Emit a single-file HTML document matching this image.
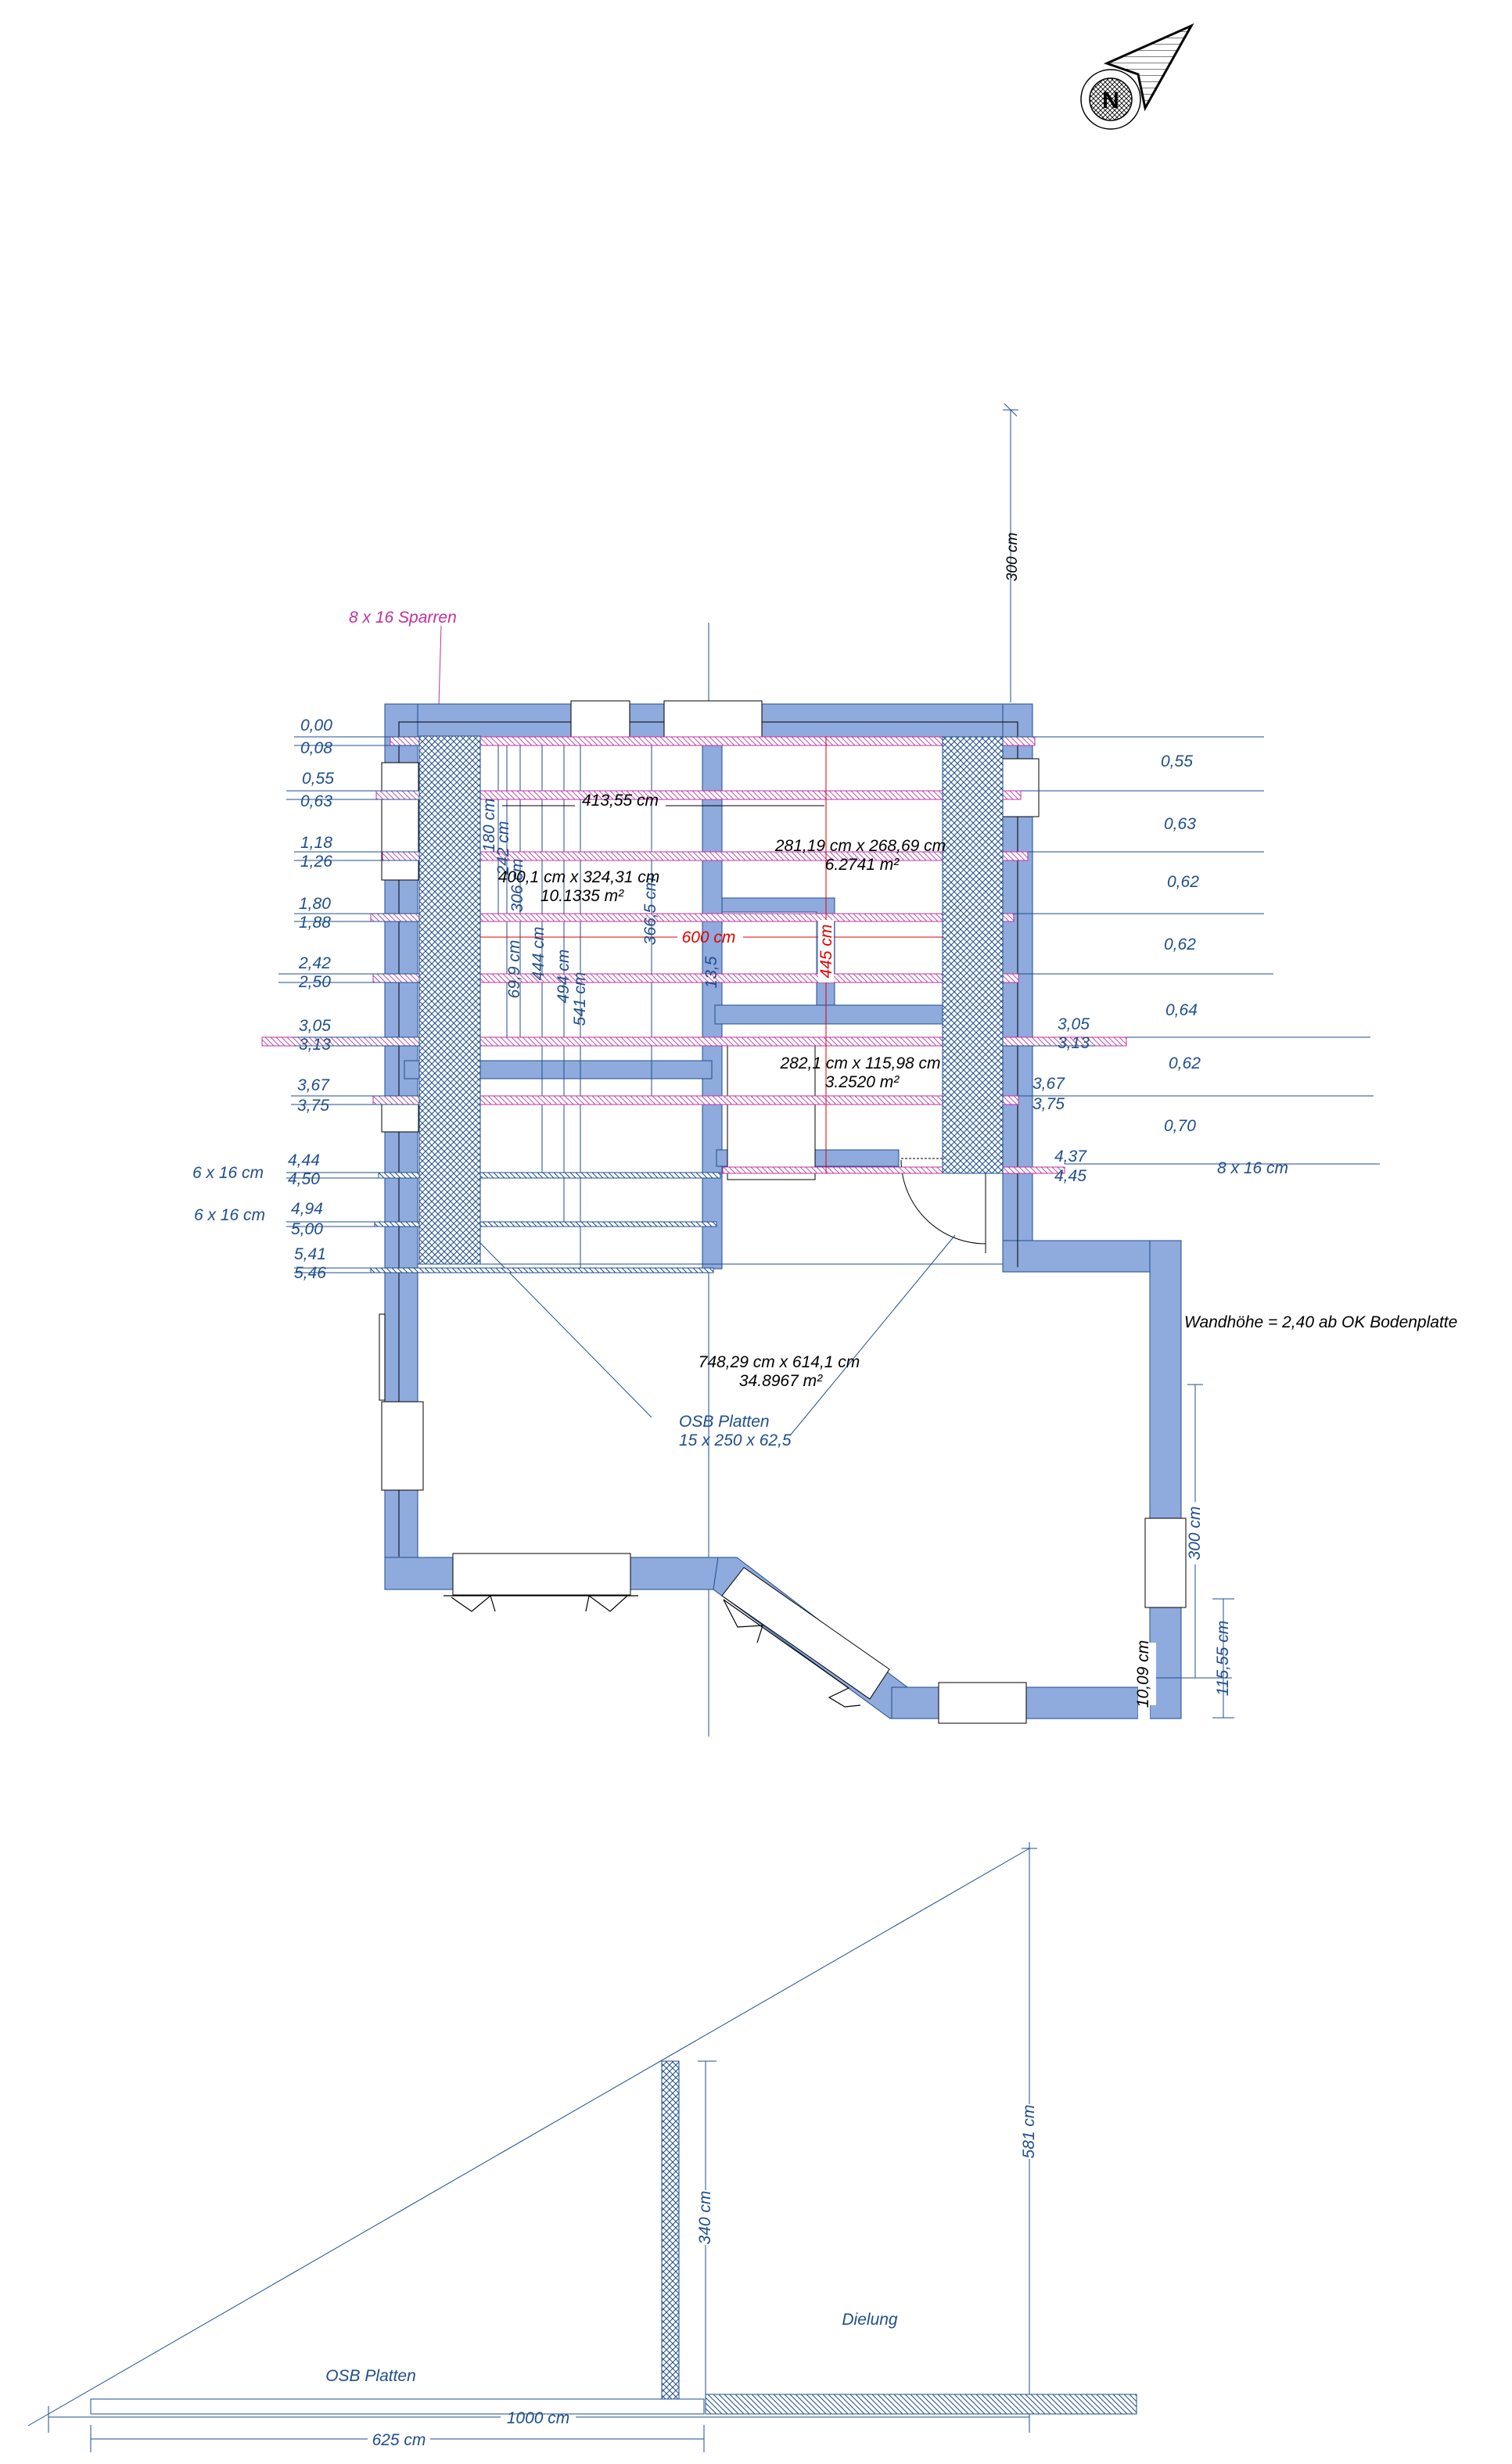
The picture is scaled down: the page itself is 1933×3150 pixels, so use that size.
<!DOCTYPE html>
<html><head><meta charset="utf-8"><style>
html,body{margin:0;padding:0;background:#fff;}
svg{display:block;}
text{font-family:"Liberation Sans",sans-serif;font-style:italic;font-size:21px;}
.b{fill:#1f4e8c;}
.k{fill:#000;}
.r{fill:#e00000;}
</style></head><body>
<svg width="1933" height="3150" viewBox="0 0 1933 3150" xmlns="http://www.w3.org/2000/svg">
<defs>
<pattern id="ch" width="8" height="8" patternUnits="userSpaceOnUse">
<rect width="8" height="8" fill="#fff"/>
<path d="M0 0L8 8M8 0L0 8" stroke="#1f4e8c" stroke-width="1"/>
</pattern>
<pattern id="ph" width="7" height="7" patternUnits="userSpaceOnUse">
<rect width="7" height="7" fill="#fff"/>
<path d="M0 0L7 7M-1 6L1 8M6 -1L8 1" stroke="#c050b0" stroke-width="1"/>
</pattern>
<pattern id="bh" width="7" height="7" patternUnits="userSpaceOnUse">
<rect width="7" height="7" fill="#fff"/>
<path d="M0 0L7 7M-1 6L1 8M6 -1L8 1" stroke="#1f4e8c" stroke-width="1"/>
</pattern>
<pattern id="kh" width="8" height="8" patternUnits="userSpaceOnUse">
<path d="M0 0L8 0" stroke="#000" stroke-width="1"/>
</pattern>
<pattern id="kx" width="6" height="6" patternUnits="userSpaceOnUse">
<path d="M0 0L6 6M6 0L0 6" stroke="#000" stroke-width="0.8"/>
</pattern>
</defs>

<!-- North arrow -->
<circle cx="1420" cy="127" r="38" fill="#fff" stroke="#000" stroke-width="1.5"/>
<circle cx="1420" cy="127" r="27" fill="url(#kx)" stroke="#000" stroke-width="1.5"/>
<text x="1420" y="138" text-anchor="middle" style="font-style:normal;font-weight:bold;font-size:30px" class="k">N</text>
<polygon points="1415,81 1523,33 1464,138 1455,95" fill="url(#kh)" stroke="#000" stroke-width="3"/>

<!-- top vertical dim 300 -->
<line x1="1292" y1="524" x2="1292" y2="898" stroke="#1f4e8c" stroke-width="1"/>
<line x1="1282" y1="524" x2="1302" y2="524" stroke="#1f4e8c"/>
<line x1="1284" y1="516" x2="1300" y2="532" stroke="#1f4e8c"/>
<text class="k" transform="translate(1300,712) rotate(-90)" text-anchor="middle" style="font-size:19px">300 cm</text>

<text x="446" y="796" fill="#c030a0">8 x 16 Sparren</text>
<line x1="564" y1="800" x2="560" y2="935" stroke="#c030a0"/>
<line x1="906" y1="796" x2="906" y2="2220" stroke="#1f4e8c" stroke-width="1"/>

<!-- walls -->
<g fill="#8faadc" stroke="#1f4e8c" stroke-width="1">
<rect x="492" y="900" width="824" height="42"/>
<rect x="492" y="900" width="42" height="1132"/>
<rect x="1282" y="900" width="38" height="726"/>
<rect x="492" y="1991" width="434" height="41"/>
<polygon points="918,1991 942,1991 1160,2157 1150,2197 1138,2197 912,2032"/>
<rect x="1140" y="2157" width="315" height="40"/>
<polygon points="1282,1586 1510,1586 1470,1626 1282,1626"/>
<rect x="1470" y="1586" width="40" height="611"/>
<rect x="898" y="942" width="25" height="680"/>
<polygon points="923,1148 1067,1148 1067,1285 1044,1285 1044,1166 923,1166"/>
<rect x="914" y="1285" width="291" height="24"/>
<rect x="517" y="1356" width="393" height="23"/>
<rect x="916" y="1470" width="233" height="21"/>
</g>
<rect x="1455" y="2140" width="15" height="60" fill="#fff"/>
<polyline points="510,1990 510,923 1301,923 1301,1620" fill="none" stroke="#000" stroke-width="1"/>
<line x1="534" y1="1616" x2="1282" y2="1616" stroke="#1f4e8c"/>

<!-- windows -->
<g fill="#fff" stroke="#000" stroke-width="1">
<rect x="730" y="896" width="75" height="46"/>
<rect x="849" y="896" width="125" height="46"/>
<rect x="488" y="975" width="47" height="150"/>
<rect x="488" y="1411" width="47" height="36"/>
<rect x="1282" y="970" width="46" height="74"/>
<rect x="488" y="1792" width="53" height="113"/>
<rect x="579" y="1986" width="227" height="53"/>
<polygon points="951,2004 1137,2134 1112,2172 923,2040"/>
<rect x="1200" y="2151" width="112" height="52"/>
<rect x="1464" y="1941" width="52" height="114"/>
<rect x="930" y="1336" width="112" height="172"/>
<rect x="485" y="1680" width="7" height="110"/>
</g>
<g fill="none" stroke="#000" stroke-width="1.2">
<polyline points="567,2040 816,2040"/>
<polyline points="577,2042 603,2060 627,2040 633,2060"/>
<polyline points="749,2060 753,2040 780,2060 802,2040"/>
<polyline points="925,2045 943,2080 975,2078 968,2100"/>
<polyline points="925,2045 1085,2158 1060,2170 1080,2182 1100,2180"/>
</g>
<path d="M1152,1483 A108 108 0 0 0 1260,1590" fill="none" stroke="#000"/>
<line x1="1260" y1="1500" x2="1260" y2="1602" stroke="#000"/>
<line x1="1152" y1="1481" x2="1205" y2="1481" stroke="#000" stroke-dasharray="3,2"/>
<line x1="614" y1="1589" x2="833" y2="1812" stroke="#1f4e8c"/>
<line x1="1221" y1="1579" x2="1011" y2="1834" stroke="#1f4e8c"/>

<g stroke="#1f4e8c" stroke-width="1">
<line x1="637" y1="942" x2="637" y2="1170"/>
<line x1="665" y1="942" x2="665" y2="1326"/>
<line x1="693" y1="942" x2="693" y2="1500"/>
<line x1="721" y1="942" x2="721" y2="1562"/>
<line x1="742" y1="942" x2="742" y2="1621"/>
<line x1="833" y1="942" x2="833" y2="1401"/>
<line x1="648" y1="942" x2="648" y2="1326"/>
</g>

<g stroke="#c030a0" stroke-width="1">
<rect x="499" y="942" width="824" height="11" fill="url(#ph)"/>
<rect x="481" y="1011" width="824" height="11" fill="url(#ph)"/>
<rect x="489" y="1089" width="825" height="11" fill="url(#ph)"/>
<rect x="474" y="1168" width="822" height="10" fill="url(#ph)"/>
<rect x="477" y="1245" width="825" height="11" fill="url(#ph)"/>
<rect x="335" y="1326" width="1105" height="11" fill="url(#ph)"/>
<rect x="477" y="1401" width="825" height="11" fill="url(#ph)"/>
<rect x="924" y="1492" width="437" height="8" fill="url(#ph)"/>
</g>
<g stroke="#1f4e8c" stroke-width="1">
<rect x="484" y="1499" width="437" height="7" fill="url(#bh)"/>
<rect x="479" y="1562" width="437" height="6" fill="url(#bh)"/>
<rect x="474" y="1621" width="438" height="6" fill="url(#bh)"/>
</g>
<rect x="536" y="941" width="78" height="675" fill="url(#ch)" stroke="#1f4e8c"/>
<rect x="1205" y="942" width="77" height="558" fill="url(#ch)" stroke="#1f4e8c"/>

<line x1="614" y1="1198" x2="866" y2="1198" stroke="#e00000"/>
<line x1="950" y1="1198" x2="1205" y2="1198" stroke="#e00000"/>
<text x="906" y="1205" text-anchor="middle" class="r">600 cm</text>
<line x1="1056" y1="942" x2="1056" y2="1500" stroke="#e00000"/>
<rect x="1046" y="1176" width="20" height="80" fill="#fff"/>
<text class="r" transform="translate(1063,1216) rotate(-90)" text-anchor="middle">445 cm</text>

<line x1="642" y1="1030" x2="735" y2="1030" stroke="#000"/>
<line x1="851" y1="1030" x2="1054" y2="1030" stroke="#000"/>
<text x="793" y="1030" text-anchor="middle" class="k">413,55 cm</text>

<g class="b">
<text transform="translate(632,1055) rotate(-90)" text-anchor="middle">180 cm</text>
<text transform="translate(650,1084) rotate(-90)" text-anchor="middle">242 cm</text>
<text transform="translate(668,1132) rotate(-90)" text-anchor="middle">306 cm</text>
<text transform="translate(838,1165) rotate(-90)" text-anchor="middle">366,5 cm</text>
<text transform="translate(664,1239) rotate(-90)" text-anchor="middle">69,9 cm</text>
<text transform="translate(695,1219) rotate(-90)" text-anchor="middle">444 cm</text>
<text transform="translate(727,1248) rotate(-90)" text-anchor="middle">494 cm</text>
<text transform="translate(748,1277) rotate(-90)" text-anchor="middle">541 cm</text>
<text transform="translate(916,1243) rotate(-90)" text-anchor="middle">13,5</text>
</g>

<g class="k" text-anchor="middle">
<text x="1100" y="1088">281,19 cm x 268,69 cm</text>
<text x="1102" y="1112">6.2741 m²</text>
<text x="740" y="1128">400,1 cm x 324,31 cm</text>
<text x="744" y="1152">10.1335 m²</text>
<text x="1100" y="1366">282,1 cm x 115,98 cm</text>
<text x="1102" y="1390">3.2520 m²</text>
<text x="996" y="1748">748,29 cm x 614,1 cm</text>
<text x="998" y="1772">34.8967 m²</text>
</g>
<text x="868" y="1824" class="b">OSB Platten</text>
<text x="868" y="1848" class="b">15 x 250 x 62,5</text>
<text x="1514" y="1697" class="k">Wandhöhe = 2,40 ab OK Bodenplatte</text>

<g stroke="#1f4e8c" stroke-width="1">
<line x1="376" y1="942" x2="536" y2="942"/><line x1="376" y1="953" x2="536" y2="953"/>
<line x1="366" y1="1011" x2="536" y2="1011"/><line x1="366" y1="1022" x2="536" y2="1022"/>
<line x1="376" y1="1089" x2="536" y2="1089"/><line x1="376" y1="1100" x2="536" y2="1100"/>
<line x1="376" y1="1168" x2="536" y2="1168"/><line x1="376" y1="1178" x2="536" y2="1178"/>
<line x1="356" y1="1245" x2="536" y2="1245"/><line x1="356" y1="1256" x2="536" y2="1256"/>
<line x1="376" y1="1326" x2="536" y2="1326"/><line x1="376" y1="1337" x2="536" y2="1337"/>
<line x1="372" y1="1401" x2="536" y2="1401"/><line x1="372" y1="1412" x2="536" y2="1412"/>
<line x1="366" y1="1499" x2="536" y2="1499"/><line x1="366" y1="1506" x2="536" y2="1506"/>
<line x1="366" y1="1562" x2="536" y2="1562"/><line x1="366" y1="1568" x2="536" y2="1568"/>
<line x1="376" y1="1621" x2="536" y2="1621"/><line x1="376" y1="1627" x2="536" y2="1627"/>
<line x1="1282" y1="942" x2="1616" y2="942"/>
<line x1="1305" y1="1011" x2="1616" y2="1011"/>
<line x1="1314" y1="1089" x2="1616" y2="1089"/>
<line x1="1296" y1="1168" x2="1616" y2="1168"/>
<line x1="1302" y1="1245" x2="1628" y2="1245"/>
<line x1="1440" y1="1326" x2="1752" y2="1326"/><line x1="1282" y1="1337" x2="1400" y2="1337"/>
<line x1="1302" y1="1401" x2="1756" y2="1401"/>
<line x1="1361" y1="1488" x2="1764" y2="1488"/>
</g>
<g class="b">
<text x="384" y="934">0,00</text><text x="384" y="963">0,08</text>
<text x="386" y="1002">0,55</text><text x="384" y="1031">0,63</text>
<text x="384" y="1084">1,18</text><text x="384" y="1108">1,26</text>
<text x="382" y="1162">1,80</text><text x="382" y="1186">1,88</text>
<text x="382" y="1238">2,42</text><text x="382" y="1262">2,50</text>
<text x="382" y="1318">3,05</text><text x="382" y="1342">3,13</text>
<text x="380" y="1394">3,67</text><text x="380" y="1420">3,75</text>
<text x="368" y="1490">4,44</text><text x="368" y="1514">4,50</text>
<text x="372" y="1552">4,94</text><text x="372" y="1578">5,00</text>
<text x="376" y="1610">5,41</text><text x="376" y="1634">5,46</text>
<text x="246" y="1506">6 x 16 cm</text><text x="248" y="1560">6 x 16 cm</text>
<text x="1484" y="980">0,55</text><text x="1488" y="1060">0,63</text>
<text x="1492" y="1134">0,62</text><text x="1488" y="1214">0,62</text>
<text x="1490" y="1298">0,64</text><text x="1494" y="1366">0,62</text>
<text x="1488" y="1446">0,70</text>
<text x="1352" y="1316">3,05</text><text x="1352" y="1340">3,13</text>
<text x="1320" y="1392">3,67</text><text x="1320" y="1418">3,75</text>
<text x="1348" y="1485">4,37</text><text x="1348" y="1510">4,45</text>
<text x="1556" y="1500">8 x 16 cm</text>
</g>

<g stroke="#1f4e8c">
<line x1="1528" y1="1770" x2="1528" y2="2145"/>
<line x1="1518" y1="1770" x2="1538" y2="1770"/>
<line x1="1564" y1="2044" x2="1564" y2="2196"/>
<line x1="1550" y1="2044" x2="1578" y2="2044"/>
<line x1="1550" y1="2196" x2="1578" y2="2196"/>
<line x1="1470" y1="2145" x2="1575" y2="2145"/>
</g>
<rect x="1518" y="1920" width="20" height="80" fill="#fff"/>
<text class="b" transform="translate(1534,1960) rotate(-90)" text-anchor="middle">300 cm</text>
<text class="b" transform="translate(1570,2120) rotate(-90)" text-anchor="middle">115,55 cm</text>
<rect x="1456" y="2100" width="22" height="80" fill="#fff"/>
<text class="k" transform="translate(1468,2140) rotate(-90)" text-anchor="middle">10,09 cm</text>

<!-- Section view -->
<line x1="36" y1="3101" x2="1316" y2="2363" stroke="#1f4e8c"/>
<line x1="1316" y1="2355" x2="1316" y2="3110" stroke="#1f4e8c"/>
<line x1="1306" y1="2363" x2="1326" y2="2363" stroke="#1f4e8c"/>
<rect x="1306" y="2690" width="20" height="70" fill="#fff"/>
<text class="b" transform="translate(1322,2725) rotate(-90)" text-anchor="middle">581 cm</text>
<rect x="846" y="2635" width="22" height="432" fill="url(#ch)" stroke="#1f4e8c"/>
<line x1="902" y1="2635" x2="902" y2="3062" stroke="#1f4e8c"/>
<line x1="892" y1="2635" x2="916" y2="2635" stroke="#1f4e8c"/>
<rect x="892" y="2800" width="20" height="70" fill="#fff"/>
<text class="b" transform="translate(908,2835) rotate(-90)" text-anchor="middle">340 cm</text>
<text x="1112" y="2972" text-anchor="middle" class="b">Dielung</text>
<rect x="902" y="3061" width="551" height="25" fill="url(#bh)" stroke="#1f4e8c"/>
<rect x="116" y="3067" width="784" height="19" fill="#fff" stroke="#1f4e8c"/>
<text x="474" y="3044" text-anchor="middle" class="b">OSB Platten</text>
<line x1="62" y1="3090" x2="640" y2="3090" stroke="#1f4e8c"/>
<line x1="736" y1="3090" x2="1316" y2="3090" stroke="#1f4e8c"/>
<line x1="62" y1="3076" x2="62" y2="3110" stroke="#1f4e8c"/>
<text x="688" y="3098" text-anchor="middle" class="b">1000 cm</text>
<line x1="116" y1="3118" x2="470" y2="3118" stroke="#1f4e8c"/>
<line x1="550" y1="3118" x2="900" y2="3118" stroke="#1f4e8c"/>
<line x1="116" y1="3100" x2="116" y2="3135" stroke="#1f4e8c"/>
<line x1="900" y1="3100" x2="900" y2="3135" stroke="#1f4e8c"/>
<text x="510" y="3126" text-anchor="middle" class="b">625 cm</text>
</svg>
</body></html>
